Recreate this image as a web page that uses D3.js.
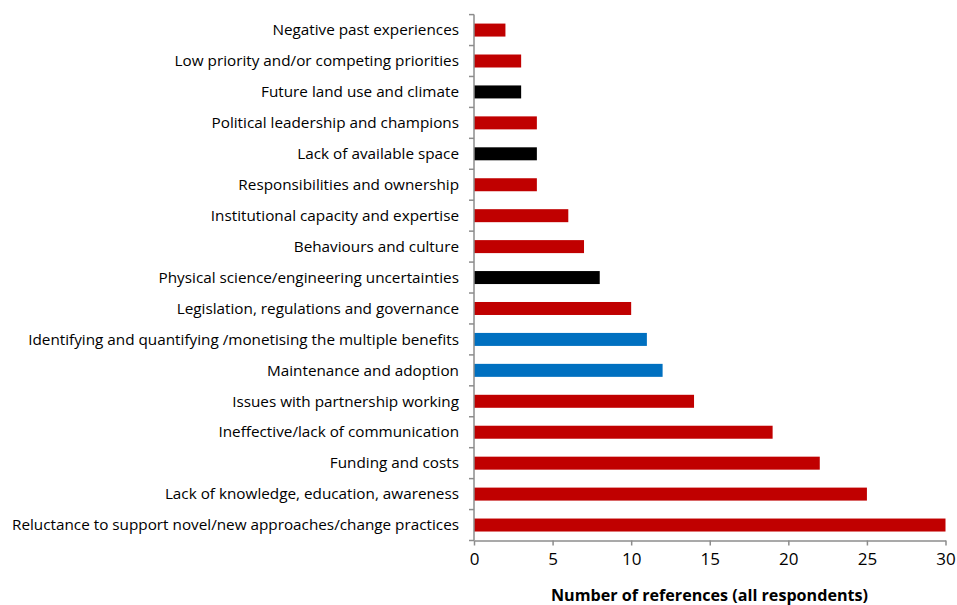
<!DOCTYPE html>
<html><head><meta charset="utf-8">
<script src="https://cdn.jsdelivr.net/npm/d3@7"></script>
<style>body{margin:0;background:#fff}svg{display:block}</style>
</head><body><svg id="c" width="957" height="605"></svg>
<script>
const categories = [
 "Negative past experiences",
 "Low priority and/or competing priorities",
 "Future land use and climate",
 "Political leadership and champions",
 "Lack of available space",
 "Responsibilities and ownership",
 "Institutional capacity and expertise",
 "Behaviours and culture",
 "Physical science/engineering uncertainties",
 "Legislation, regulations and governance",
 "Identifying and quantifying /monetising the multiple benefits",
 "Maintenance and adoption",
 "Issues with partnership working",
 "Ineffective/lack of communication",
 "Funding and costs",
 "Lack of knowledge, education, awareness",
 "Reluctance to support novel/new approaches/change practices"
];
const values = [2,3,3,4,4,4,6,7,8,10,11,12,14,19,22,25,30];
const groups = ["r","r","k","r","k","r","r","r","k","r","b","b","r","r","r","r","r"];
const xTicks = [0,5,10,15,20,25,30];
const axisTitle = "Number of references (all respondents)";

const colors = {r:"#c00000", k:"#000000", b:"#0070c0"};
const svg = d3.select("#c");
const x = d3.scaleLinear().domain([0,30]).range([474,945.5]);
const yTop = 14.6, yBot = 540.5;
const y = d3.scaleBand().domain(categories).range([yTop,yBot]).paddingInner(0.58).paddingOuter(0.29);
const font = "'Open Sans', sans-serif";
const axisCol = "#8c8c8c";

svg.selectAll("rect.bar").data(categories).join("rect")
  .attr("class","bar")
  .attr("x", x(0))
  .attr("y", d=>y(d))
  .attr("width", (d,i)=>x(values[i])-x(0))
  .attr("height", y.bandwidth())
  .attr("fill", (d,i)=>colors[groups[i]]);

svg.append("line").attr("x1",x(0)).attr("x2",x(0)).attr("y1",yTop).attr("y2",yBot)
  .attr("stroke",axisCol).attr("stroke-width",1.5);
d3.range(categories.length+1).forEach(i=>{
  const yy = yTop + i*(yBot-yTop)/categories.length;
  svg.append("line").attr("x1",x(0)-5).attr("x2",x(0)).attr("y1",yy).attr("y2",yy)
    .attr("stroke",axisCol).attr("stroke-width",1.5);
});

const fs = 15;
const labels = svg.selectAll("text.cat").data(categories).join("text")
  .attr("class","cat")
  .attr("x", 459)
  .attr("y", d=>y(d)+y.bandwidth()/2)
  .attr("dy","0.35em")
  .attr("text-anchor","end")
  .attr("font-family",font)
  .attr("font-size",fs)
  .attr("fill","#000")
  .text(d=>d);
let maxW = 0;
labels.each(function(){ maxW = Math.max(maxW, this.getComputedTextLength()); });
const k = 447/maxW;
labels.each(function(){
  const w = this.getComputedTextLength();
  d3.select(this).attr("textLength", w*k).attr("lengthAdjust","spacingAndGlyphs");
});

const xAxis = d3.axisBottom(x).tickValues(xTicks).tickSize(5).tickSizeOuter(0).tickPadding(7);
const gx = svg.append("g").attr("transform",`translate(0,${yBot})`).call(xAxis);
gx.select(".domain").attr("stroke",axisCol).attr("stroke-width",1.5);
gx.selectAll(".tick line").attr("stroke",axisCol).attr("stroke-width",1.5);
gx.selectAll(".tick text").attr("font-family",font).attr("font-size",17).attr("fill","#000");

const t = svg.append("text").attr("x",709.5).attr("y",595).attr("dy","0.35em")
  .attr("text-anchor","middle").attr("font-family",font).attr("font-weight","bold")
  .attr("font-size",16).attr("fill","#000").text(axisTitle);
t.attr("textLength",317).attr("lengthAdjust","spacingAndGlyphs");
</script></body></html>
